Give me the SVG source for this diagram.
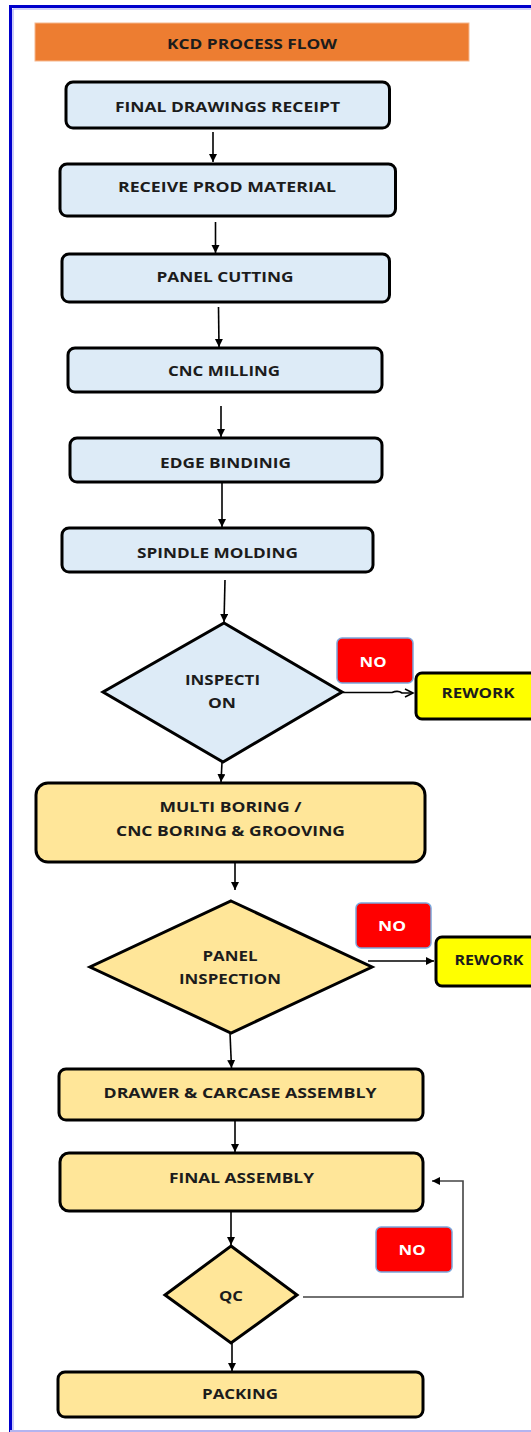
<svg xmlns="http://www.w3.org/2000/svg" width="531" height="1432" viewBox="0 0 531 1432">
<style>
.t{font-family:"Open Sans","Liberation Sans",sans-serif;font-weight:700;font-size:14px;fill:#1c1c1c;text-anchor:middle}
.w{fill:#ffffff}
.b{fill:#DDEBF7;stroke:#000;stroke-width:3}
.y{fill:#FFE699;stroke:#000;stroke-width:3}
.rw{fill:#FFFF00;stroke:#000;stroke-width:3}
.no{fill:#FF0000;stroke:#7BA7DC;stroke-width:1.5}
.c{fill:none;stroke:#000;stroke-width:1.6}
.g{fill:none;stroke:#444;stroke-width:1.6}
</style>
<defs>
<marker id="ah" markerUnits="userSpaceOnUse" markerWidth="10" markerHeight="10" refX="8" refY="4" orient="auto">
<path d="M0,0 L8,4 L0,8 Z" fill="#000"/>
</marker>
<marker id="ao" markerUnits="userSpaceOnUse" markerWidth="12" markerHeight="12" refX="9" refY="5" orient="auto">
<path d="M1,1 L9,5 L1,9" fill="none" stroke="#000" stroke-width="1.6"/>
</marker>
</defs>
<rect x="0" y="0" width="531" height="1432" fill="#fff"/>
<g id="frame">
<line x1="10" y1="6.5" x2="531" y2="6.5" stroke="#0000CC" stroke-width="3"/>
<line x1="13" y1="9" x2="531" y2="9" stroke="#A8A8F4" stroke-width="1.2"/>
<line x1="10.5" y1="5" x2="10.5" y2="1432" stroke="#0000CC" stroke-width="3"/>
<line x1="13" y1="9" x2="13" y2="1432" stroke="#A8A8F4" stroke-width="1.2"/>
<line x1="10" y1="1431" x2="531" y2="1431" stroke="#B4B4F0" stroke-width="2"/>
</g>
<g id="title">
<rect x="35" y="23" width="434" height="38" fill="#ED7D31" stroke="#F6B88E" stroke-width="1"/>
<text class="t" x="252" y="49" font-size="14.5" textLength="170" lengthAdjust="spacingAndGlyphs">KCD PROCESS FLOW</text>
</g>
<g id="connectors">
<line class="c" x1="213" y1="132" x2="213" y2="162" marker-end="url(#ah)"/>
<line class="c" x1="215.5" y1="222" x2="215.5" y2="253" marker-end="url(#ah)"/>
<line class="c" x1="218.5" y1="307" x2="219" y2="347" marker-end="url(#ah)"/>
<line class="c" x1="221" y1="406" x2="221" y2="437" marker-end="url(#ah)"/>
<line class="c" x1="222" y1="483" x2="222" y2="527" marker-end="url(#ah)"/>
<line class="c" x1="225" y1="580" x2="224" y2="622" marker-end="url(#ah)"/>
<path class="c" d="M343,692.5 H392 Q398,690 402,693 H413" marker-end="url(#ao)"/>
<line class="c" x1="222" y1="762" x2="221" y2="782" marker-end="url(#ah)"/>
<line class="c" x1="235" y1="863" x2="235" y2="890" marker-end="url(#ah)"/>
<path class="c" d="M368,961 H434" marker-end="url(#ah)"/>
<line class="c" x1="230" y1="1033" x2="231.5" y2="1068" marker-end="url(#ah)"/>
<line class="c" x1="235" y1="1120" x2="235" y2="1152" marker-end="url(#ah)"/>
<line class="c" x1="231" y1="1211" x2="231" y2="1245" marker-end="url(#ah)"/>
<line class="c" x1="232" y1="1343" x2="232" y2="1371" marker-end="url(#ah)"/>
<path class="g" d="M303,1297 H463 V1181 H432" marker-end="url(#ah)"/>
</g>
<g id="n1"><rect class="b" x="66" y="82" width="323.5" height="46" rx="7"/><text class="t" x="227.5" y="112" textLength="225" lengthAdjust="spacingAndGlyphs">FINAL DRAWINGS RECEIPT</text></g>
<g id="n2"><rect class="b" x="60" y="164" width="335.5" height="52" rx="7"/><text class="t" x="227" y="192" textLength="218" lengthAdjust="spacingAndGlyphs">RECEIVE PROD MATERIAL</text></g>
<g id="n3"><rect class="b" x="62" y="254" width="327.5" height="48" rx="7"/><text class="t" x="225" y="282" textLength="137" lengthAdjust="spacingAndGlyphs">PANEL CUTTING</text></g>
<g id="n4"><rect class="b" x="68" y="348" width="314" height="44" rx="7"/><text class="t" x="224" y="376" textLength="112" lengthAdjust="spacingAndGlyphs">CNC MILLING</text></g>
<g id="n5"><rect class="b" x="70" y="438" width="312" height="44" rx="7"/><text class="t" x="225.5" y="468" textLength="131" lengthAdjust="spacingAndGlyphs">EDGE BINDINIG</text></g>
<g id="n6"><rect class="b" x="62" y="528" width="311" height="44" rx="7"/><text class="t" x="217.5" y="558" textLength="161" lengthAdjust="spacingAndGlyphs">SPINDLE MOLDING</text></g>
<g id="d1"><path class="b" d="M224,623 L342,692 L223,762 L103,692 Z"/><text class="t" x="222.5" y="685" textLength="75" lengthAdjust="spacingAndGlyphs">INSPECTI</text><text class="t" x="222" y="708" textLength="28" lengthAdjust="spacingAndGlyphs">ON</text></g>
<g id="no1"><rect class="no" x="337" y="638" width="76" height="45" rx="5"/><text class="t w" x="373" y="667" textLength="27" lengthAdjust="spacingAndGlyphs">NO</text></g>
<g id="rw1"><rect class="rw" x="416" y="673" width="130" height="46" rx="6"/><text class="t" x="478" y="698" textLength="73" lengthAdjust="spacingAndGlyphs">REWORK</text></g>
<g id="n7"><rect class="y" x="36" y="783" width="389" height="79" rx="12"/><text class="t" x="230.5" y="812" textLength="142" lengthAdjust="spacingAndGlyphs">MULTI BORING /</text><text class="t" x="230.5" y="836" textLength="229" lengthAdjust="spacingAndGlyphs">CNC BORING &amp; GROOVING</text></g>
<g id="d2"><path class="y" d="M231,901 L372,967 L231,1033 L90,967 Z"/><text class="t" x="230" y="961" textLength="55" lengthAdjust="spacingAndGlyphs">PANEL</text><text class="t" x="230" y="984" textLength="102" lengthAdjust="spacingAndGlyphs">INSPECTION</text></g>
<g id="no2"><rect class="no" x="356" y="903" width="75" height="45" rx="5"/><text class="t w" x="392" y="931" textLength="28" lengthAdjust="spacingAndGlyphs">NO</text></g>
<g id="rw2"><rect class="rw" x="436" y="937" width="110" height="49" rx="6"/><text class="t" x="489" y="965" textLength="69" lengthAdjust="spacingAndGlyphs">REWORK</text></g>
<g id="n8"><rect class="y" x="59" y="1069" width="364" height="51" rx="7"/><text class="t" x="240" y="1098" textLength="273" lengthAdjust="spacingAndGlyphs">DRAWER &amp; CARCASE ASSEMBLY</text></g>
<g id="n9"><rect class="y" x="60" y="1153" width="363" height="58" rx="9"/><text class="t" x="241.5" y="1183" textLength="145" lengthAdjust="spacingAndGlyphs">FINAL ASSEMBLY</text></g>
<g id="qc"><path class="y" d="M231,1246 L297,1295 L231,1343 L165,1295 Z"/><text class="t" x="231" y="1301" textLength="24" lengthAdjust="spacingAndGlyphs">QC</text></g>
<g id="no3"><rect class="no" x="376" y="1227" width="76" height="45" rx="5"/><text class="t w" x="412" y="1255" textLength="27" lengthAdjust="spacingAndGlyphs">NO</text></g>
<g id="n10"><rect class="y" x="58" y="1372" width="365" height="45" rx="7"/><text class="t" x="240" y="1399" textLength="76" lengthAdjust="spacingAndGlyphs">PACKING</text></g>
</svg>
